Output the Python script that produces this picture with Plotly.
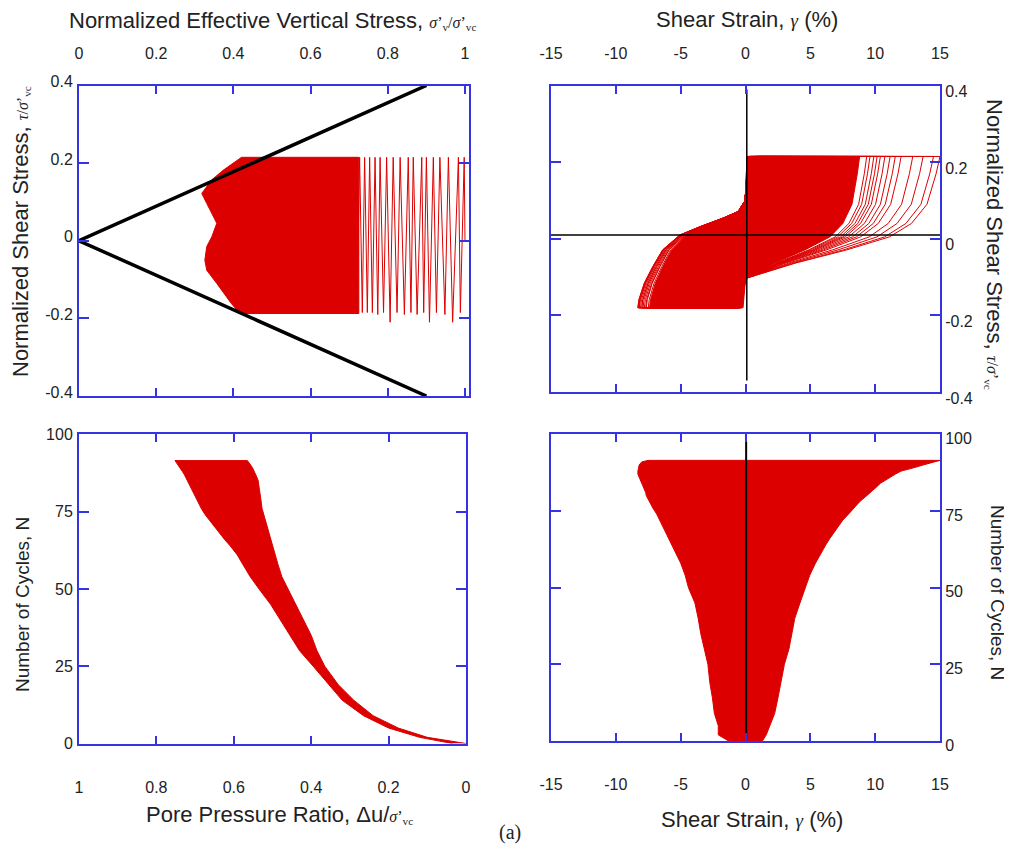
import plotly.graph_objects as go

W, H = 1012, 858
OX, OY = 8, 8  # the page body margin shifts the figure by 8 px

# ---------------- data ----------------
# cycle-by-cycle envelopes (bottom panels)
cycles = [0, 2, 5, 9, 14, 19, 25, 30, 35, 40, 45, 50, 54, 58, 61, 64, 66, 68, 70, 72, 74, 76, 78,
          80, 81, 82, 83, 84, 85, 86, 87, 88, 89, 90, 91, 91.5]
ru_low = [0.0, 0.10, 0.175, 0.24, 0.29, 0.33, 0.365, 0.385, 0.40, 0.42, 0.44, 0.46, 0.476, 0.486, 0.493,
          0.499, 0.503, 0.508, 0.513, 0.518, 0.523, 0.527, 0.529, 0.531, 0.532, 0.533, 0.534, 0.535,
          0.537, 0.540, 0.543, 0.547, 0.551, 0.556, 0.561, 0.565]
ru_high = [0.035, 0.12, 0.20, 0.265, 0.32, 0.355, 0.395, 0.43, 0.455, 0.48, 0.505, 0.535, 0.558, 0.577,
           0.591, 0.610, 0.624, 0.637, 0.650, 0.662, 0.674, 0.684, 0.693, 0.700, 0.704, 0.709, 0.713,
           0.717, 0.721, 0.724, 0.728, 0.733, 0.738, 0.743, 0.749, 0.752]
strain_min = [-1.3, -2.1, -2.1, -2.4, -2.55, -2.75, -2.9, -3.2, -3.45, -3.65, -3.9, -4.4, -4.65, -5.0,
              -5.35, -5.65, -5.9, -6.15, -6.35, -6.6, -6.85, -7.15, -7.4, -7.65, -7.7, -7.8, -7.9, -8.0,
              -8.1, -8.2, -8.3, -8.3, -8.25, -8.2, -8.0, -7.5]
strain_max = [1.3, 1.6, 1.85, 2.25, 2.5, 2.75, 3.0, 3.35, 3.55, 3.8, 4.2, 4.6, 4.95, 5.4, 5.8, 6.2, 6.5,
              6.85, 7.15, 7.5, 7.95, 8.4, 8.8, 9.35, 9.6, 9.9, 10.15, 10.4, 10.75, 11.15, 11.55, 12.0,
              12.9, 13.7, 14.5, 15.0]

# hysteresis-loop shape read from the outermost loop (fractions of strain_min / strain_max)
load_neg_frac = [1.0, 0.99, 0.94, 0.86, 0.77, 0.61, 0.42, 0.21, 0.07, 0.01]
load_neg_tau = [-0.18, -0.159, -0.116, -0.072, -0.029, 0.01, 0.032, 0.054, 0.071, 0.097]
load_pos_frac = [0.013, 0.055, 0.09, 1.0]
load_pos_tau = [0.145, 0.189, 0.215, 0.215]
unload_pos_frac = [0.98, 0.933, 0.853, 0.74, 0.52, 0.26, 0.004]
unload_pos_tau = [0.17, 0.09, 0.04, 0.005, -0.029, -0.063, -0.103]
unload_neg_frac = [0.145, 1.0]
unload_neg_tau = [-0.18, -0.18]
filled_loop_max_cycle = 79

# stress path (top-left): dense core outline and sparse turning points
tl_core_sv = [0.421, 0.374, 0.344, 0.318, 0.331, 0.348, 0.357, 0.344, 0.331, 0.326, 0.331, 0.357,
              0.395, 0.417, 0.725, 0.725, 0.421]
tl_core_tau = [0.215, 0.182, 0.157, 0.122, 0.096, 0.062, 0.045, 0.010, -0.015, -0.05, -0.076, -0.110,
               -0.162, -0.1875, -0.1875, 0.215, 0.215]
tl_turn_sv = [1.0, 0.998, 0.988, 0.983, 0.968, 0.957, 0.948, 0.935, 0.926, 0.918, 0.908, 0.9, 0.893,
              0.888, 0.876, 0.866, 0.86, 0.853, 0.843, 0.832, 0.824, 0.814, 0.806, 0.797, 0.789, 0.78,
              0.774, 0.767, 0.76, 0.753, 0.747, 0.74, 0.734, 0.727, 0.72, 0.712, 0.705, 0.698]
tl_turn_tau = [0.0, 0.215, -0.185, 0.215, -0.21, 0.215, -0.19, 0.215, -0.185, 0.215, -0.21, 0.215,
               -0.185, 0.215, -0.19, 0.215, -0.185, 0.215, -0.19, 0.215, -0.185, 0.215, -0.21, 0.215,
               -0.185, 0.215, -0.19, 0.215, -0.185, 0.215, -0.185, 0.215, -0.185, 0.215, -0.185, 0.215,
               -0.185, 0.215]
fail_sv = [0.9, 0.0, 0.9]
fail_tau = [0.4, 0.0, -0.4]

# reference lines
tr_vline_x, tr_vline_y = [0.1, 0.1], [0.39, -0.37]
tr_hline_x, tr_hline_y = [-15, 15], [0.01, 0.01]
br_vline_x, br_vline_y = [0.05, 0.05], [0, 97.6]

# tick labels
sv_ticks = [0, 0.2, 0.4, 0.6, 0.8, 1]
sv_labels = ["0", "0.2", "0.4", "0.6", "0.8", "1"]
tau_ticks = [-0.4, -0.2, 0, 0.2, 0.4]
tau_labels = ["-0.4", "-0.2", "0", "0.2", "0.4"]
strain_ticks = [-15, -10, -5, 0, 5, 10, 15]
strain_labels = ["-15", "-10", "-5", "0", "5", "10", "15"]
ru_ticks = [1, 0.8, 0.6, 0.4, 0.2, 0]
ru_labels = ["1", "0.8", "0.6", "0.4", "0.2", "0"]
n_ticks = [0, 25, 50, 75, 100]
n_labels = ["0", "25", "50", "75", "100"]

# ---------------- styling ----------------
RED = "#dc0000"
BLUE = "#3434e2"
TICK_FONT = "Liberation Sans Narrow, Arial Narrow, Liberation Sans, Arial, sans-serif"
TITLE_FONT = "Liberation Sans, Arial, sans-serif"
SERIF = "Liberation Serif, Times New Roman, serif"


def dom_x(a, b):
    return [(a - OX) / W, (b - OX) / W]


def dom_y(top, bottom):
    return [1 - (bottom - OY) / H, 1 - (top - OY) / H]


fig = go.Figure()

# ---- top-left: stress path ----
fig.add_trace(go.Scatter(x=tl_core_sv, y=tl_core_tau, mode="lines", fill="toself", fillcolor=RED,
                         line=dict(color=RED, width=1), xaxis="x", yaxis="y", hoverinfo="skip"))
fig.add_trace(go.Scatter(x=tl_turn_sv, y=tl_turn_tau, mode="lines", line=dict(color=RED, width=1),
                         xaxis="x", yaxis="y", hoverinfo="skip"))
fig.add_trace(go.Scatter(x=fail_sv, y=fail_tau, mode="lines", line=dict(color="black", width=3.5),
                         xaxis="x", yaxis="y", hoverinfo="skip"))

# ---- top-right: hysteresis loops ----
for n, gmn, gmx in zip(cycles, strain_min, strain_max):
    lx = ([gmn * f for f in load_neg_frac] + [gmx * f for f in load_pos_frac] +
          [gmx * f for f in unload_pos_frac] + [gmn * f for f in unload_neg_frac])
    ly = load_neg_tau + load_pos_tau + unload_pos_tau + unload_neg_tau
    filled = n <= filled_loop_max_cycle
    fig.add_trace(go.Scatter(x=lx, y=ly, mode="lines", line=dict(color=RED, width=1),
                             fill="toself" if filled else None, fillcolor=RED,
                             xaxis="x2", yaxis="y2", hoverinfo="skip"))
fig.add_trace(go.Scatter(x=tr_hline_x, y=tr_hline_y, mode="lines", line=dict(color="black", width=1.5),
                         xaxis="x2", yaxis="y2", hoverinfo="skip"))
fig.add_trace(go.Scatter(x=tr_vline_x, y=tr_vline_y, mode="lines", line=dict(color="black", width=1.5),
                         xaxis="x2", yaxis="y2", hoverinfo="skip"))

# ---- bottom-left: pore pressure ratio band ----
fig.add_trace(go.Scatter(x=ru_low + ru_high[::-1], y=cycles + cycles[::-1], mode="lines", fill="toself",
                         fillcolor=RED, line=dict(color=RED, width=1), xaxis="x3", yaxis="y3",
                         hoverinfo="skip"))

# ---- bottom-right: shear strain band ----
fig.add_trace(go.Scatter(x=strain_min + strain_max[::-1], y=cycles + cycles[::-1], mode="lines",
                         fill="toself", fillcolor=RED, line=dict(color=RED, width=1), xaxis="x4",
                         yaxis="y4", hoverinfo="skip"))
fig.add_trace(go.Scatter(x=br_vline_x, y=br_vline_y, mode="lines", line=dict(color="black", width=2),
                         xaxis="x4", yaxis="y4", hoverinfo="skip"))

common = dict(showgrid=False, zeroline=False, showline=True, linecolor=BLUE, linewidth=2, mirror="ticks",
              ticks="inside", tickcolor=BLUE, tickwidth=2, tickmode="array", automargin=False,
              tickfont=dict(family=TICK_FONT, size=16, color="#222222"))

fig.update_layout(
    width=W, height=H, margin=dict(l=0, r=0, t=0, b=0, pad=0), showlegend=False,
    paper_bgcolor="white", plot_bgcolor="white",
    xaxis=dict(common, domain=dom_x(79, 469), range=[0, 1.0104], side="top", anchor="y",
               tickvals=sv_ticks, ticktext=sv_labels, ticklen=8, ticklabelstandoff=18),
    yaxis=dict(common, domain=dom_y(85.5, 396), range=[-0.4, 0.4], side="left", anchor="x",
               tickvals=tau_ticks, ticktext=tau_labels, ticklen=10, ticklabelstandoff=1,
               ticklabelshift=-4),
    xaxis2=dict(common, domain=dom_x(551, 940), range=[-15, 15], side="top", anchor="y2",
                tickvals=strain_ticks, ticktext=strain_labels, ticklen=8, ticklabelstandoff=18),
    yaxis2=dict(common, domain=dom_y(85.6, 392), range=[-0.4, 0.4], side="right", anchor="x2",
                tickvals=tau_ticks, ticktext=tau_labels, ticklen=10, ticklabelstandoff=0,
                ticklabelshift=6),
    xaxis3=dict(common, domain=dom_x(79, 466), range=[1, 0], side="bottom", anchor="y3",
                tickvals=ru_ticks, ticktext=ru_labels, ticklen=8, ticklabelstandoff=28),
    yaxis3=dict(common, domain=dom_y(434.3, 743.5), range=[0, 100], side="left", anchor="x3",
                tickvals=n_ticks, ticktext=n_labels, ticklen=10, ticklabelstandoff=1),
    xaxis4=dict(common, domain=dom_x(551, 940), range=[-15, 15], side="bottom", anchor="y4",
                tickvals=strain_ticks, ticktext=strain_labels, ticklen=8, ticklabelstandoff=28),
    yaxis4=dict(common, domain=dom_y(434.3, 741), range=[0, 100], side="right", anchor="x4",
                tickvals=n_ticks, ticktext=n_labels, ticklen=10, ticklabelstandoff=0,
                ticklabelshift=4),
)

sig = (f'<span style="font-family:{SERIF};font-size:16px"><i>σ</i>’<sub>v</sub>/<i>σ</i>’'
       f'<sub>vc</sub></span>')
sig_vc = f'<span style="font-family:{SERIF};font-size:16px"><i>σ</i>’<sub>vc</sub></span>'
tau_s = f'<span style="font-family:{SERIF};font-size:16px"><i>τ</i>/</span>'
gam = f'<span style="font-family:{SERIF};font-size:19px"><i>γ</i></span>'

titles = [
    ("Normalized Effective Vertical Stress, " + sig, 272, 21, 0, 22),
    ("Shear Strain, " + gam + " (%)", 747, 20, 0, 22),
    ("Normalized Shear Stress, " + tau_s + sig_vc, 20, 232, -90, 22),
    ("Normalized Shear Stress, " + tau_s + sig_vc, 995, 244, 90, 22),
    ("Number of Cycles, N", 22, 605, -90, 19),
    ("Number of Cycles, N", 998, 592, 90, 19),
    ("Pore Pressure Ratio, Δu/" + sig_vc, 279, 814, 0, 22),
    ("Shear Strain, " + gam + " (%)", 752, 819, 0, 22),
]
for text, px, py, ang, fs in titles:
    fig.add_annotation(text=text, x=(px - OX) / W, y=1 - (py - OY) / H, xref="paper", yref="paper",
                       showarrow=False, xanchor="center", yanchor="middle", textangle=ang,
                       font=dict(family=TITLE_FONT, size=fs, color="#222222"))
fig.add_annotation(text="(a)", x=(510 - OX) / W, y=1 - (832 - OY) / H, xref="paper", yref="paper",
                   showarrow=False, xanchor="center", yanchor="middle",
                   font=dict(family=SERIF, size=20, color="#222222"))

fig.write_html("out.html")
